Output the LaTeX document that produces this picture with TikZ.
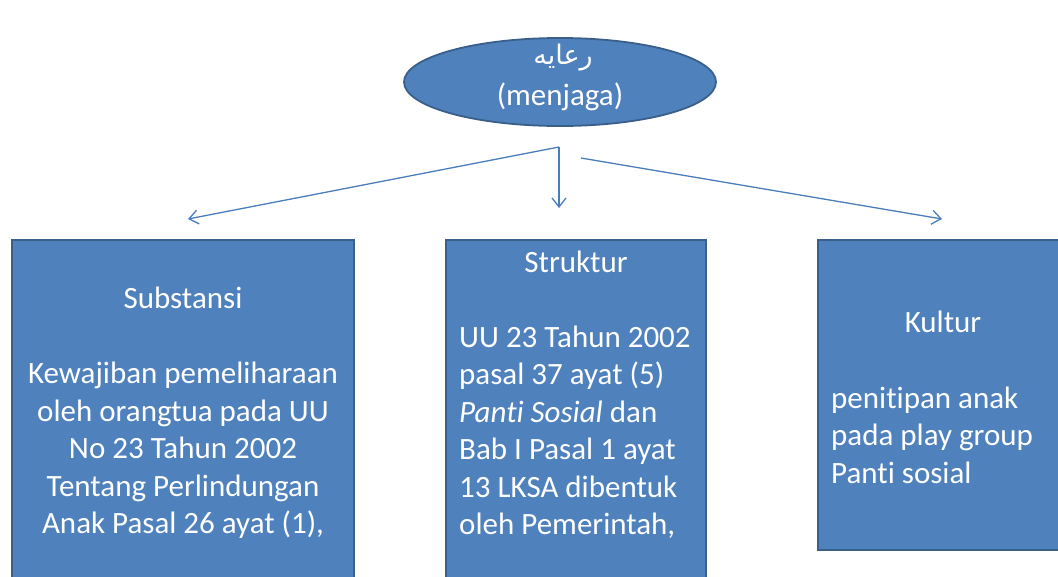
\documentclass[tikz,border=0pt]{standalone}
\usepackage{fontspec}
\setmainfont[Ligatures=NoCommon]{Carlito}
\newfontfamily\arabicfont[Script=Arabic]{DejaVu Sans}
\TeXXeTstate=1
\usetikzlibrary{shapes.geometric,arrows.meta}
\definecolor{boxfill}{HTML}{4F81BD}
\definecolor{boxline}{HTML}{3A5F8B}
\definecolor{arrcol}{HTML}{4A7EBB}
\tikzset{
  panel/.style={draw=boxline, line width=1.8pt, fill=boxfill, inner sep=0pt},
  oval/.style={ellipse, draw=boxline, line width=1.8pt, fill=boxfill, inner sep=0pt},
  txt/.style={text=white, inner sep=0pt, font=\fontsize{31}{37.5}\selectfont},
  conn/.style={draw=arrcol, line width=1.3pt, -{Straight Barb[length=9pt,width=14pt]}}
}
\begin{document}
\begin{tikzpicture}[x=1pt,y=-1pt]
\useasboundingbox (0,0) rectangle (1058,576);
\clip (0,0) rectangle (1058,576);
% ellipse
\node[oval, minimum width=312pt, minimum height=88pt] (top) at (560,82) {};
\node[txt, font=\fontsize{27}{30}\selectfont\arabicfont] (ar) at (563,58) {\beginR رعايه\endR};
\node[txt] (men) at (560,97) {(menjaga)};
% boxes
\node[panel, minimum width=342pt, minimum height=350pt] (left) at (183,415) {};
\node[panel, minimum width=260pt, minimum height=350pt] (mid) at (576,415) {};
\node[panel, minimum width=252pt, minimum height=310pt] (right) at (944,395) {};
% texts
\node[txt, align=center] (ltext) at (183,413) {Substansi\\[37.5pt]Kewajiban pemeliharaan\\oleh orangtua pada UU\\No 23 Tahun 2002\\Tentang Perlindungan\\Anak Pasal 26 ayat (1),};
\node[txt] (mtitle) at (576,262) {Struktur};
\node[txt, align=left, anchor=west] (mtext) at (459,432) {UU 23 Tahun 2002\\pasal 37 ayat (5)\\\textit{Panti Sosial} dan\\Bab I Pasal 1 ayat\\13 LKSA dibentuk\\oleh Pemerintah,};
\node[txt] (rtitle) at (943,322) {Kultur};
\node[txt, align=left, anchor=west] (rtext) at (831,435) {penitipan anak\\pada play group\\Panti sosial};
% connectors
\coordinate (s1) at (559,147);
\coordinate (s2) at (581,158);
\coordinate (e1) at (188,219);
\coordinate (e2) at (559,208);
\coordinate (e3) at (942,219);
\draw[conn] (s1) -- (e1);
\draw[conn] (s1) -- (e2);
\draw[conn] (s2) -- (e3);
\end{tikzpicture}
\end{document}
